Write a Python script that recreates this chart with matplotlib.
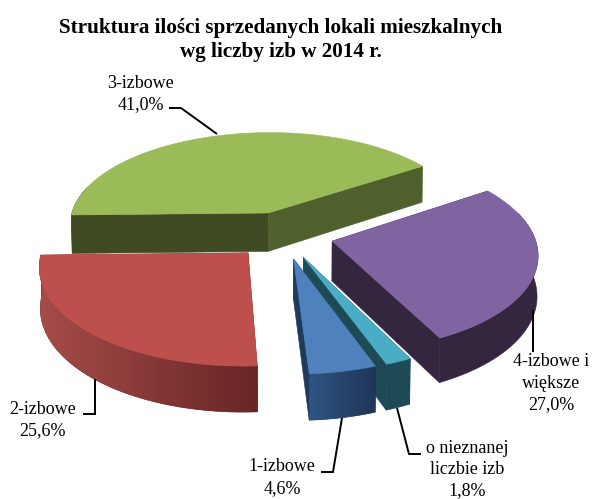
import numpy as np
import matplotlib
matplotlib.use("Agg")
import matplotlib.pyplot as plt
from matplotlib.patches import Polygon
from matplotlib.colors import LinearSegmentedColormap

# Data
categories = ["1-izbowe", "2-izbowe", "3-izbowe", "4-izbowe i\nwiększe", "o nieznanej\nliczbie izb"]
shares = [4.6, 25.6, 41.0, 27.0, 1.8]

# Colours: top, radial wall (clockwise start), radial wall (clockwise end), rim left, rim right
top_colors = ["#4f81bd", "#bd4f4c", "#9bbb59", "#8064a2", "#4bacc6"]
start_wall = ["#1f3a5c", "#6b2826", "#404a23", "#35263f", "#1d4a55"]
end_wall = ["#1f3a5c", "#6b2826", "#4f602d", "#35263f", "#1d4a55"]
rim_left = ["#2f5583", "#a64c49", "#404a23", "#35263f", "#1d4a55"]
rim_right = ["#1f3658", "#672625", "#404a23", "#35263f", "#1d4a55"]

# Projection of the tilted pie
first_angle = 160.0
explode = 0.25
cx, cy = 283.0, 235.0
rx, ry = 202.0, 95.0
persp = 0.12
depth = 39.5


def project(X, Y, bottom=False):
    d = 1 + persp * Y
    x = rx * X / d
    y = cy - ry * Y / d
    if bottom:
        return cx + 0.996 * x, y + depth / d
    return cx + x, y


def face(ax, pts, color, z):
    ax.add_patch(Polygon(pts, closed=True, fc=color, ec=color, lw=0.4, zorder=z))


fig = plt.figure(figsize=(5.95, 4.99), dpi=100)
ax = fig.add_axes([0, 0, 1, 1])

# Slices, back to front
bounds = first_angle + np.concatenate([[0], np.cumsum(shares)]) * 3.6
z = 1
for i in [2, 3, 1, 4, 0]:
    mid = np.radians((bounds[i] + bounds[i + 1]) / 2)
    ox, oy = explode * np.sin(mid), explode * np.cos(mid)
    ang = np.radians(np.linspace(bounds[i], bounds[i + 1], 120))
    X, Y = ox + np.sin(ang), oy + np.cos(ang)

    tx, ty = project(ox, oy)
    bx, by = project(ox, oy, True)
    sx, sy = project(X, Y)
    ux, uy = project(X, Y, True)

    # radial walls
    face(ax, [(tx, ty), (sx[0], sy[0]), (ux[0], uy[0]), (bx, by)], start_wall[i], z)
    face(ax, [(tx, ty), (sx[-1], sy[-1]), (ux[-1], uy[-1]), (bx, by)], end_wall[i], z)
    z += 1

    # outer rim, only the part facing the viewer, shaded across its width
    front = np.cos(ang) <= 0.3
    if front.any():
        rim = np.column_stack([np.r_[sx[front], ux[front][::-1]], np.r_[sy[front], uy[front][::-1]]])
        face(ax, rim, rim_right[i], z)
        z += 1
        if rim_left[i] != rim_right[i]:
            clip = Polygon(rim, closed=True, transform=ax.transData, fc="none", ec="none")
            ax.add_patch(clip)
            cmap = LinearSegmentedColormap.from_list("rim", [rim_left[i], rim_right[i]])
            im = ax.imshow(np.linspace(0, 1, 200)[None, :], cmap=cmap, aspect="auto", zorder=z,
                           extent=(rim[:, 0].min(), rim[:, 0].max(), rim[:, 1].max(), rim[:, 1].min()))
            im.set_clip_path(clip)
    z += 1

    # top face
    face(ax, np.column_stack([np.r_[tx, sx], np.r_[ty, sy]]), top_colors[i], z)
    z += 1

ax.set_xlim(0, 595)
ax.set_ylim(499, 0)
ax.axis("off")

# Leader lines
leaders = [
    [(342, 418), (333, 472), (321, 472)],
    [(95, 379), (95, 414), (83, 414)],
    [(169, 108), (181, 108), (217, 134)],
    [(533, 310), (533, 352)],
    [(397, 408), (409, 454), (421, 454)],
]
for pts in leaders:
    ax.plot(*zip(*pts), color="black", lw=1.4, solid_joinstyle="miter", solid_capstyle="butt", zorder=z)

# Labels
label_pos = [(282, 477.5), (43, 420), (141, 94), (551, 383), (467, 469.5)]
for name, share, (lx, ly) in zip(categories, shares, label_pos):
    text = name + "\n" + "{:.1f}%".format(share).replace(".", ",")
    ax.text(lx, ly, text, ha="center", va="center", family="Liberation Serif",
            fontsize=13.0, linespacing=1.33, color="black", zorder=z + 1, clip_on=False)

ax.text(281, 40, "Struktura ilości sprzedanych lokali mieszkalnych\nwg liczby izb w 2014 r.",
        ha="center", va="center", family="Liberation Serif", fontweight="bold",
        fontsize=15.2, linespacing=1.27, color="black", zorder=z + 1)

fig.savefig("out.png", dpi=100)
